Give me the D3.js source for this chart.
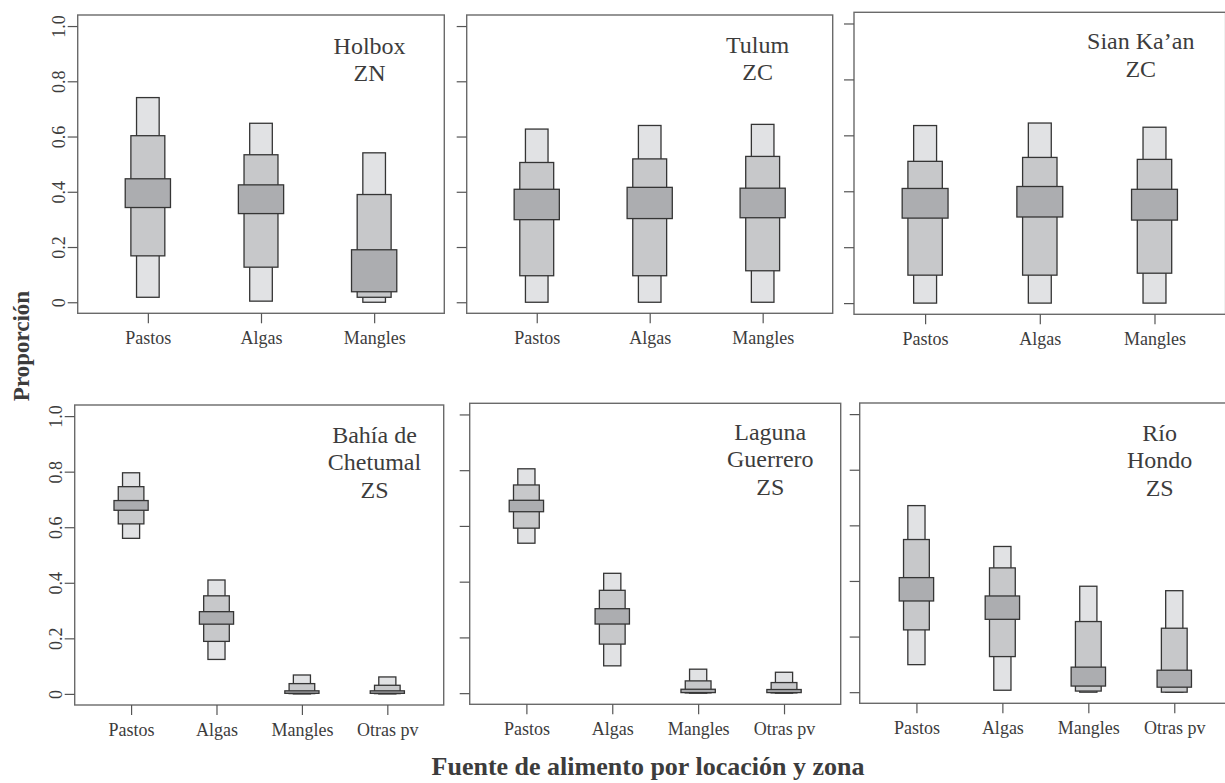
<!DOCTYPE html>
<html>
<head>
<meta charset="utf-8">
<script src="https://cdn.jsdelivr.net/npm/d3@7/dist/d3.min.js"></script>
<style>
  html, body { margin: 0; padding: 0; background: #fff; }
  svg { display: block; }
  text { font-family: "Liberation Serif", "Times New Roman", serif; fill: #3c3c3c; }
</style>
</head>
<body>
<svg id="chart" width="1225" height="783"></svg>
<script>
// Food-source categories for each panel
const categories3 = ["Pastos", "Algas", "Mangles"];
const categories4 = ["Pastos", "Algas", "Mangles", "Otras pv"];

// y-axis tick values and their printed labels
const yTicks = [0, 0.2, 0.4, 0.6, 0.8, 1.0];
const yTickLabels = ["0", "0.2", "0.4", "0.6", "0.8", "1.0"];

// Highest-density regions of the proportion of each source.
// Each row: [lo99, hi99, lo95, hi95, lo50, hi50]
const holbox = [
  [0.018, 0.741, 0.168, 0.603, 0.343, 0.447],
  [0.004, 0.648, 0.127, 0.534, 0.321, 0.425],
  [0.000, 0.541, 0.018, 0.390, 0.038, 0.190]
];
const tulum = [
  [0.000, 0.627, 0.096, 0.506, 0.299, 0.409],
  [0.000, 0.640, 0.096, 0.519, 0.303, 0.416],
  [0.000, 0.644, 0.114, 0.528, 0.306, 0.413]
];
const sianKaan = [
  [0.000, 0.635, 0.100, 0.507, 0.304, 0.410],
  [0.000, 0.644, 0.100, 0.521, 0.308, 0.417],
  [0.000, 0.629, 0.107, 0.514, 0.297, 0.407]
];
const bahiaChetumal = [
  [0.560, 0.796, 0.612, 0.746, 0.661, 0.696],
  [0.124, 0.410, 0.189, 0.353, 0.251, 0.296],
  [0.000, 0.068, 0.001, 0.037, 0.002, 0.011],
  [0.000, 0.061, 0.001, 0.031, 0.002, 0.011]
];
const lagunaGuerrero = [
  [0.538, 0.805, 0.592, 0.747, 0.651, 0.692],
  [0.098, 0.430, 0.176, 0.369, 0.248, 0.303],
  [0.000, 0.086, 0.001, 0.044, 0.002, 0.014],
  [0.000, 0.075, 0.001, 0.038, 0.002, 0.013]
];
const rioHondo = [
  [0.099, 0.671, 0.224, 0.549, 0.328, 0.412],
  [0.007, 0.524, 0.128, 0.447, 0.262, 0.346],
  [0.000, 0.381, 0.004, 0.254, 0.022, 0.090],
  [0.000, 0.365, 0.000, 0.230, 0.018, 0.079]
];

// Region styling: outer (99%) narrow & light, inner (50%) wide & dark
const regionStyle = [
  { idx: 0, width: 0.2, fill: "#e1e2e4" },
  { idx: 2, width: 0.3, fill: "#c7c8ca" },
  { idx: 4, width: 0.4, fill: "#acadb0" }
];

// Panel layout: frame box [left, right, top, bottom] in px
const panels = [
  { lines: ["Holbox", "ZN"], cats: categories3, rows: holbox,
    frame: [77.7, 444.3, 15, 313.3], yLabels: true, labelAt: [2.96, 0.900] },
  { lines: ["Tulum", "ZC"], cats: categories3, rows: tulum,
    frame: [466.7, 832.7, 15, 313.3], yLabels: false, labelAt: [2.955, 0.904] },
  { lines: ["Sian Ka\u2019an", "ZC"], cats: categories3, rows: sianKaan,
    frame: [854, 1225.6, 12.3, 314.3], yLabels: false, labelAt: [2.88, 0.907] },
  { lines: ["Bahía de", "Chetumal", "ZS"], cats: categories4, rows: bahiaChetumal,
    frame: [74.7, 443.7, 405, 705], yLabels: true, labelAt: [3.85, 0.904] },
  { lines: ["Laguna", "Guerrero", "ZS"], cats: categories4, rows: lagunaGuerrero,
    frame: [469.7, 840.7, 403.3, 704.3], yLabels: false, labelAt: [3.84, 0.910] },
  { lines: ["Río", "Hondo", "ZS"], cats: categories4, rows: rioHondo,
    frame: [859.7, 1231, 403, 703.3], yLabels: false, labelAt: [3.83, 0.904] }
];

const svg = d3.select("#chart");
svg.append("rect").attr("width", 1225).attr("height", 783).attr("fill", "#fff");

panels.forEach(p => {
  const [fx0, fx1, fy0, fy1] = p.frame;
  const n = p.cats.length;
  // 4% padding around the data range on both axes
  const x = d3.scaleLinear().domain([0.5 - 0.04 * n, n + 0.5 + 0.04 * n]).range([fx0, fx1]);
  const y = d3.scaleLinear().domain([-0.04, 1.04]).range([fy1, fy0]);
  const g = svg.append("g");

  // HDR boxes
  p.rows.forEach((r, i) => {
    const cx = x(i + 1);
    const unit = x(1) - x(0);
    regionStyle.forEach(s => {
      const lo = r[s.idx], hi = r[s.idx + 1];
      g.append("rect")
        .attr("x", cx - s.width * unit / 2)
        .attr("width", s.width * unit)
        .attr("y", y(hi))
        .attr("height", Math.max(0.8, y(lo) - y(hi)))
        .attr("fill", s.fill)
        .attr("stroke", "#353535")
        .attr("stroke-width", 1.3);
    });
  });

  // Frame
  g.append("rect")
    .attr("x", fx0).attr("y", fy0)
    .attr("width", fx1 - fx0).attr("height", fy1 - fy0)
    .attr("fill", "none").attr("stroke", "#6a6a6a").attr("stroke-width", 1.4);

  // y axis
  const yAxis = g.append("g")
    .attr("transform", `translate(${fx0},0)`)
    .call(d3.axisLeft(y).tickValues(yTicks).tickSize(10).tickSizeOuter(0)
      .tickFormat((d, i) => p.yLabels ? yTickLabels[i] : ""));
  yAxis.select(".domain").remove();
  yAxis.selectAll(".tick line").attr("stroke", "#555").attr("stroke-width", 1.2);
  yAxis.selectAll(".tick text")
    .attr("x", 0).attr("y", -13).attr("dy", 0)
    .attr("transform", "rotate(-90)")
    .attr("text-anchor", "middle")
    .style("font-family", '"Liberation Serif", "Times New Roman", serif')
    .style("font-size", "18px")
    .attr("fill", "#3c3c3c");

  // x axis
  const xAxis = g.append("g")
    .attr("transform", `translate(0,${fy1})`)
    .call(d3.axisBottom(x).tickValues(d3.range(1, n + 1)).tickSize(10).tickSizeOuter(0)
      .tickFormat((d, i) => p.cats[i]));
  xAxis.select(".domain").remove();
  xAxis.selectAll(".tick line").attr("stroke", "#555").attr("stroke-width", 1.2);
  xAxis.selectAll(".tick text")
    .attr("y", 31).attr("dy", 0)
    .style("font-family", '"Liberation Serif", "Times New Roman", serif')
    .style("font-size", "18px")
    .attr("fill", "#3c3c3c");

  // Location / zone label
  const lbl = g.append("text")
    .attr("x", x(p.labelAt[0]))
    .attr("y", y(p.labelAt[1]))
    .attr("text-anchor", "middle")
    .style("font-size", "24px");
  p.lines.forEach((t, i) => {
    lbl.append("tspan")
      .attr("x", x(p.labelAt[0]))
      .attr("dy", i === 0 ? 0 : 27.5)
      .text(t);
  });
});

// Axis titles
svg.append("text")
  .attr("transform", "translate(29,346) rotate(-90)")
  .attr("text-anchor", "middle")
  .style("font-size", "23px")
  .style("font-weight", "bold")
  .text("Proporción");

svg.append("text")
  .attr("x", 648).attr("y", 775)
  .attr("text-anchor", "middle")
  .style("font-size", "26px")
  .style("font-weight", "bold")
  .text("Fuente de alimento por locación y zona");
</script>
</body>
</html>
